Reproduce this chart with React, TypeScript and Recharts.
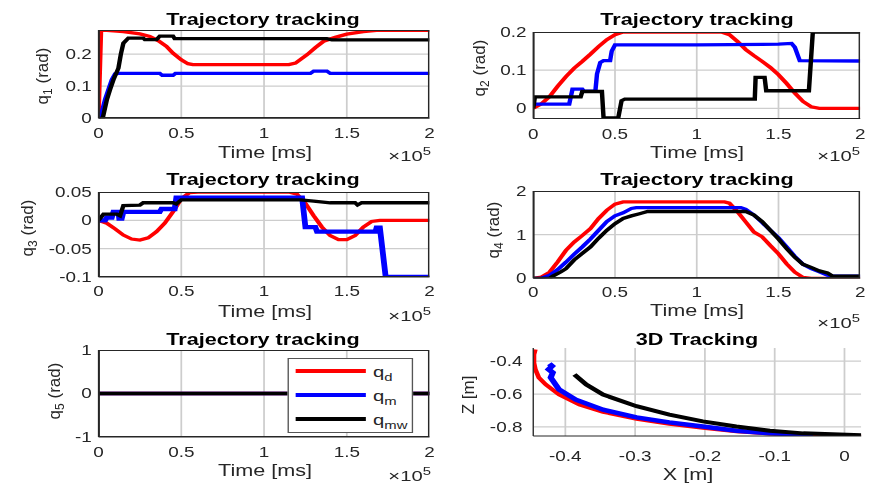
import React from 'react'
import { LineChart, Line, XAxis, YAxis, Legend } from 'recharts'

// the reference figure is stretched sideways, so the charts are drawn narrow and scaled
const S = 1.35
const FONT = '"Liberation Sans", Arial, Helvetica, sans-serif'
const INK = '#262626'
const GRID = '#cdcdcd'
const RED = '#ff0000'
const BLUE = '#0000ff'
const BLACK = '#000000'

const timeTicks = [0, 0.5, 1, 1.5, 2]
const q1Ticks = [0, 0.1, 0.2]
const q2Ticks = [0, 0.1, 0.2]
const q3Ticks = [-0.1, -0.05, 0, 0.05]
const q4Ticks = [0, 1, 2]
const q5Ticks = [-1, 0, 1]
const xTicks3d = [-0.4, -0.3, -0.2, -0.1, 0]
const zTicks3d = [-0.8, -0.6, -0.4]

// time in units of 1e5 ms, angle in rad
const q1d = [[0, 0], [0.005, 0.1], [0.015, 0.274], [0.05, 0.274], [0.15, 0.27], [0.25, 0.263], [0.31, 0.255], [0.36, 0.242], [0.41, 0.224], [0.45, 0.203], [0.5, 0.182], [0.54, 0.17], [0.57, 0.167], [1.15, 0.167], [1.19, 0.172], [1.26, 0.198], [1.31, 0.22], [1.36, 0.24], [1.43, 0.252], [1.5, 0.262], [1.6, 0.27], [1.68, 0.274], [2, 0.274]]
const q1m = [[0, 0], [0.02, 0.02], [0.04, 0.06], [0.06, 0.09], [0.08, 0.12], [0.1, 0.138], [0.12, 0.14], [0.37, 0.14], [0.385, 0.134], [0.45, 0.134], [0.465, 0.14], [1.28, 0.14], [1.3, 0.147], [1.38, 0.147], [1.4, 0.14], [2, 0.14]]
const q1mw = [[0, 0], [0.025, 0], [0.05, 0.057], [0.07, 0.09], [0.09, 0.12], [0.12, 0.156], [0.135, 0.2], [0.15, 0.234], [0.18, 0.25], [0.27, 0.25], [0.28, 0.245], [0.35, 0.245], [0.37, 0.256], [0.45, 0.256], [0.46, 0.248], [1.38, 0.248], [1.41, 0.244], [2, 0.244]]

const q2d = [[0, 0], [0.05, 0.012], [0.1, 0.031], [0.15, 0.058], [0.2, 0.083], [0.25, 0.105], [0.3, 0.123], [0.35, 0.142], [0.4, 0.162], [0.45, 0.18], [0.5, 0.193], [0.55, 0.2], [1.15, 0.2], [1.2, 0.193], [1.25, 0.175], [1.3, 0.154], [1.35, 0.138], [1.4, 0.123], [1.45, 0.107], [1.5, 0.088], [1.55, 0.065], [1.6, 0.04], [1.65, 0.018], [1.7, 0.004], [1.75, 0], [2, 0]]
const q2m = [[0, 0.011], [0.22, 0.011], [0.24, 0.05], [0.3, 0.05], [0.31, 0.045], [0.38, 0.045], [0.39, 0.09], [0.41, 0.12], [0.43, 0.125], [0.47, 0.125], [0.48, 0.15], [0.5, 0.166], [1.0, 0.166], [1.5, 0.168], [1.58, 0.17], [1.6, 0.16], [1.63, 0.125], [2, 0.124]]
const q2mw = [[0, 0], [0.01, 0.03], [0.29, 0.03], [0.3, 0.044], [0.42, 0.044], [0.43, -0.025], [0.52, -0.025], [0.54, 0.02], [0.56, 0.024], [1.355, 0.024], [1.36, 0.081], [1.415, 0.081], [1.425, 0.046], [1.686, 0.046], [1.71, 0.2], [2, 0.2]]

const q3d = [[0, 0], [0.05, -0.005], [0.1, -0.015], [0.15, -0.026], [0.2, -0.033], [0.25, -0.035], [0.3, -0.031], [0.35, -0.02], [0.4, -0.005], [0.45, 0.015], [0.5, 0.038], [0.55, 0.049], [0.6, 0.05], [1.15, 0.05], [1.2, 0.046], [1.25, 0.03], [1.3, 0.008], [1.35, -0.012], [1.4, -0.027], [1.45, -0.034], [1.5, -0.034], [1.55, -0.027], [1.6, -0.012], [1.65, -0.002], [1.7, 0], [2, 0]]
const q3m = [[0, 0], [0.04, 0], [0.05, 0.005], [0.08, 0.005], [0.09, 0.015], [0.12, 0.015], [0.125, 0.003], [0.14, 0.003], [0.15, 0.015], [0.37, 0.015], [0.38, 0.02], [0.46, 0.02], [0.47, 0.04], [1.23, 0.04], [1.25, -0.012], [1.31, -0.012], [1.32, -0.02], [1.673, -0.02], [1.68, -0.013], [1.7, -0.013], [1.735, -0.1], [2, -0.1]]
const q3mw = [[0, 0], [0.03, 0.011], [0.11, 0.011], [0.13, 0.008], [0.15, 0.026], [0.25, 0.027], [0.27, 0.031], [0.45, 0.031], [0.47, 0.029], [0.5, 0.036], [1.22, 0.036], [1.3, 0.034], [1.4, 0.031], [1.55, 0.031], [1.565, 0.027], [1.59, 0.031], [2, 0.031]]

const q4d = [[0, 0], [0.05, 0.03], [0.1, 0.14], [0.15, 0.38], [0.2, 0.64], [0.25, 0.83], [0.3, 0.98], [0.35, 1.14], [0.4, 1.37], [0.45, 1.56], [0.5, 1.7], [0.55, 1.75], [1.17, 1.75], [1.2, 1.72], [1.25, 1.52], [1.3, 1.29], [1.35, 1.06], [1.4, 0.95], [1.45, 0.75], [1.5, 0.56], [1.55, 0.33], [1.6, 0.14], [1.65, 0.02], [1.7, 0], [2, 0]]
const q4m = [[0, 0], [0.05, 0], [0.1, 0.07], [0.15, 0.2], [0.2, 0.37], [0.25, 0.55], [0.3, 0.72], [0.35, 0.9], [0.4, 1.1], [0.45, 1.3], [0.5, 1.43], [0.55, 1.5], [0.6, 1.6], [0.63, 1.62], [1.27, 1.62], [1.3, 1.58], [1.35, 1.45], [1.4, 1.28], [1.45, 1.1], [1.5, 0.93], [1.55, 0.72], [1.6, 0.5], [1.65, 0.32], [1.7, 0.22], [1.75, 0.15], [1.8, 0.07], [1.83, 0.05], [2, 0.05]]
const q4mw = [[0, 0], [0.1, 0], [0.12, 0.05], [0.17, 0.15], [0.2, 0.22], [0.25, 0.42], [0.3, 0.57], [0.35, 0.72], [0.4, 0.92], [0.45, 1.1], [0.5, 1.25], [0.55, 1.37], [0.6, 1.43], [0.65, 1.48], [0.7, 1.53], [1.3, 1.53], [1.35, 1.45], [1.4, 1.3], [1.45, 1.1], [1.5, 0.9], [1.55, 0.68], [1.6, 0.48], [1.65, 0.32], [1.7, 0.25], [1.75, 0.17], [1.8, 0.12], [1.83, 0.05], [2, 0.05]]

const q5d = [[0, 0], [2, 0]]
const q5m = [[0, 0], [2, 0]]
const q5mw = [[0, 0], [2, 0]]

// X [m], Z [m]
const red3d = [[-0.443, -0.329], [-0.445, -0.36], [-0.445, -0.41], [-0.443, -0.45], [-0.438, -0.5], [-0.428, -0.542], [-0.409, -0.603], [-0.38, -0.664], [-0.346, -0.709], [-0.298, -0.752], [-0.251, -0.782], [-0.203, -0.806], [-0.155, -0.827], [-0.107, -0.841], [-0.059, -0.847], [0.024, -0.853]]
const blue3d = [[-0.423, -0.416], [-0.419, -0.43], [-0.424, -0.45], [-0.418, -0.47], [-0.421, -0.5], [-0.409, -0.573], [-0.385, -0.634], [-0.346, -0.695], [-0.298, -0.742], [-0.251, -0.772], [-0.203, -0.797], [-0.155, -0.823], [-0.107, -0.839], [-0.045, -0.847]]
const black3d = [[-0.387, -0.481], [-0.37, -0.542], [-0.346, -0.603], [-0.298, -0.674], [-0.251, -0.725], [-0.203, -0.766], [-0.155, -0.797], [-0.107, -0.823], [-0.059, -0.839], [0.024, -0.851]]

const toPts = (a: number[][]) => a.map(([x, y]) => ({ x, y }))

type Series = { name: string; color: string; width: number; pts: number[][] }

const YW = 70
const R = 8
const T = 8
const XH = 34

const tickStyle = { fill: INK, fontSize: 14, fontFamily: FONT }
const LEGEND_KEYS = ['d', 'm', 'mw']

function LegendBox({ payload }: any) {
  const items = (payload || []).filter((e: any) => LEGEND_KEYS.includes(e.value))
  return (
    <div style={{ border: '1px solid #555', background: '#fff', width: '100%', height: '100%', boxSizing: 'border-box', fontFamily: FONT, color: INK }}>
      {items.map((e: any) => (
        <div key={e.value} style={{ height: 24, display: 'flex', alignItems: 'center' }}>
          <div style={{ marginLeft: 5, width: 52, height: 3.3, background: e.color }} />
          <span style={{ marginLeft: 5, fontSize: 15, lineHeight: 1 }}>
            q<span style={{ fontSize: 11, position: 'relative', top: 4 }}>{e.value}</span>
          </span>
        </div>
      ))}
    </div>
  )
}

function Panel({ rect, xDomain, yDomain, xT, yT, series, box = true, xGap = 10, yGap = 5, hGrid = true, legend }: any) {
  const [x0, x1, y0, y1] = rect
  const plotW = (x1 - x0) / S
  const plotH = y1 - y0
  const left = x0 / S - YW
  const top = y0 - T
  const width = YW + plotW + R
  const height = T + plotH + XH
  // grid lines drawn as plain series at the tick values
  const vGrid = xT.map((t: number) => [{ x: t, y: yDomain[0] }, { x: t, y: yDomain[1] }])
  const hLines = hGrid ? yT.map((t: number) => [{ x: xDomain[0], y: t }, { x: xDomain[1], y: t }]) : []
  return (
    <div style={{ position: 'absolute', left, top, width, height }}>
      <LineChart width={width} height={height} margin={{ top: T, right: R, bottom: 0, left: 0 }}>
        <XAxis type="number" dataKey="x" domain={xDomain} ticks={xT} interval={0} allowDataOverflow height={XH}
          tickLine={false} tickSize={0} tickMargin={xGap} axisLine={{ stroke: INK }} tick={tickStyle} />
        <YAxis type="number" dataKey="y" domain={yDomain} ticks={yT} interval={0} allowDataOverflow width={YW}
          tickLine={false} tickSize={0} tickMargin={yGap} axisLine={{ stroke: INK }} tick={tickStyle} />
        {[...vGrid, ...hLines].map((g: any, i: number) => (
          <Line key={'g' + i} name={'grid' + i} data={g} dataKey="y" type="linear" stroke={GRID} strokeWidth={1.3}
            dot={false} activeDot={false} legendType="none" isAnimationActive={false} />
        ))}
        {legend && (
          <Legend layout="vertical" align="center" verticalAlign="middle" content={<LegendBox />}
            wrapperStyle={{ left: legend[0] / S - left, top: legend[2] - top, width: (legend[1] - legend[0]) / S, height: legend[3] - legend[2], margin: 0 }} />
        )}
        {series.map((s: Series) => (
          <Line key={s.name} name={s.name} data={toPts(s.pts)} dataKey="y" type="linear" stroke={s.color}
            strokeWidth={s.width} dot={false} activeDot={false} isAnimationActive={false} />
        ))}
      </LineChart>
      {box && (
        <div style={{ position: 'absolute', left: YW, top: T, width: plotW, height: plotH, boxSizing: 'border-box', border: `1px solid ${INK}`, pointerEvents: 'none' }} />
      )}
    </div>
  )
}

const textBase: React.CSSProperties = { position: 'absolute', fontFamily: FONT, color: INK, whiteSpace: 'nowrap', lineHeight: 1 }

function Title({ x, y, children }: any) {
  return <div style={{ ...textBase, left: x, top: y, fontSize: 16, fontWeight: 'bold', color: '#000', transform: `translate(-50%,-50%) scaleX(${S})` }}>{children}</div>
}
function XLabel({ x, y, children }: any) {
  return <div style={{ ...textBase, left: x, top: y, fontSize: 16, transform: `translate(-50%,-50%) scaleX(${S})` }}>{children}</div>
}
function Exp({ x, y }: any) {
  return (
    <div style={{ ...textBase, left: x, top: y, fontSize: 15, transformOrigin: '100% 50%', transform: `translate(-100%,-50%) scaleX(${S})` }}>
      ×10<span style={{ fontSize: 11, position: 'relative', top: -6 }}>5</span>
    </div>
  )
}
function YLabel({ x, y, sub, unit = '(rad)', base = 'q' }: any) {
  return (
    <div style={{ ...textBase, left: x, top: y, fontSize: 17, transform: 'translate(-50%,-50%) rotate(-90deg)' }}>
      {base}{sub && <span style={{ fontSize: 12, position: 'relative', top: 4 }}>{sub}</span>} {unit}
    </div>
  )
}

const lines = (d: number[][], m: number[][], mw: number[][], wm = 3.3): Series[] => [
  { name: 'd', color: RED, width: 3.3, pts: d },
  { name: 'm', color: BLUE, width: wm, pts: m },
  { name: 'mw', color: BLACK, width: 3.3, pts: mw },
]

export default function App() {
  return (
    <div style={{ position: 'absolute', left: 0, top: 0, width: 872, height: 486, background: '#fff', overflow: 'hidden' }}>
      <div style={{ position: 'absolute', left: 0, top: 0, width: 872 / S, height: 486, transform: `scaleX(${S})`, transformOrigin: '0 0' }}>
        <Panel rect={[98, 429, 30, 118.3]} xDomain={[0, 2]} yDomain={[0, 0.275]} xT={timeTicks} yT={q1Ticks} series={lines(q1d, q1m, q1mw)} />
        <Panel rect={[533, 860, 32, 118.6]} xDomain={[0, 2]} yDomain={[-0.027, 0.2]} xT={timeTicks} yT={q2Ticks} series={lines(q2d, q2m, q2mw)} />
        <Panel rect={[98, 429, 192, 277]} xDomain={[0, 2]} yDomain={[-0.1, 0.05]} xT={timeTicks} yT={q3Ticks} series={lines(q3d, q3m, q3mw, 4.3)} xGap={9} />
        <Panel rect={[533, 860, 191, 278.3]} xDomain={[0, 2]} yDomain={[0, 2]} xT={timeTicks} yT={q4Ticks} series={lines(q4d, q4m, q4mw)} xGap={9} />
        <Panel rect={[98, 429, 350, 437]} xDomain={[0, 2]} yDomain={[-1, 1]} xT={timeTicks} yT={q5Ticks} hGrid={false} series={lines(q5d, q5m, q5mw)} legend={[288, 413, 358, 433]} />
        <Panel rect={[533, 861, 348, 436]} xDomain={[-0.446, 0.024]} yDomain={[-0.855, -0.32]} xT={xTicks3d} yT={zTicks3d} box={false} xGap={15} yGap={8}
          series={[
            { name: 'd', color: RED, width: 3.5, pts: red3d },
            { name: 'm', color: BLUE, width: 4.5, pts: blue3d },
            { name: 'mw', color: BLACK, width: 4, pts: black3d },
          ]} />
      </div>

      <Title x={263} y={20}>Trajectory tracking</Title>
      <Title x={697} y={20}>Trajectory tracking</Title>
      <Title x={263} y={180}>Trajectory tracking</Title>
      <Title x={697} y={180}>Trajectory tracking</Title>
      <Title x={263} y={340}>Trajectory tracking</Title>
      <Title x={697} y={340}>3D Tracking</Title>

      <XLabel x={265} y={153}>Time [ms]</XLabel>
      <XLabel x={697} y={153}>Time [ms]</XLabel>
      <XLabel x={265} y={312}>Time [ms]</XLabel>
      <XLabel x={697} y={311}>Time [ms]</XLabel>
      <XLabel x={265} y={471}>Time [ms]</XLabel>
      <XLabel x={688} y={475}>X [m]</XLabel>

      <Exp x={431} y={155} />
      <Exp x={860} y={155} />
      <Exp x={431} y={315} />
      <Exp x={860} y={322} />
      <Exp x={431} y={475} />

      <YLabel x={42} y={76} sub="1" />
      <YLabel x={479} y={68} sub="2" />
      <YLabel x={27} y={228} sub="3" />
      <YLabel x={493} y={230} sub="4" />
      <YLabel x={54} y={391} sub="5" />
      <YLabel x={468} y={395} base="Z" unit="[m]" />
    </div>
  )
}
